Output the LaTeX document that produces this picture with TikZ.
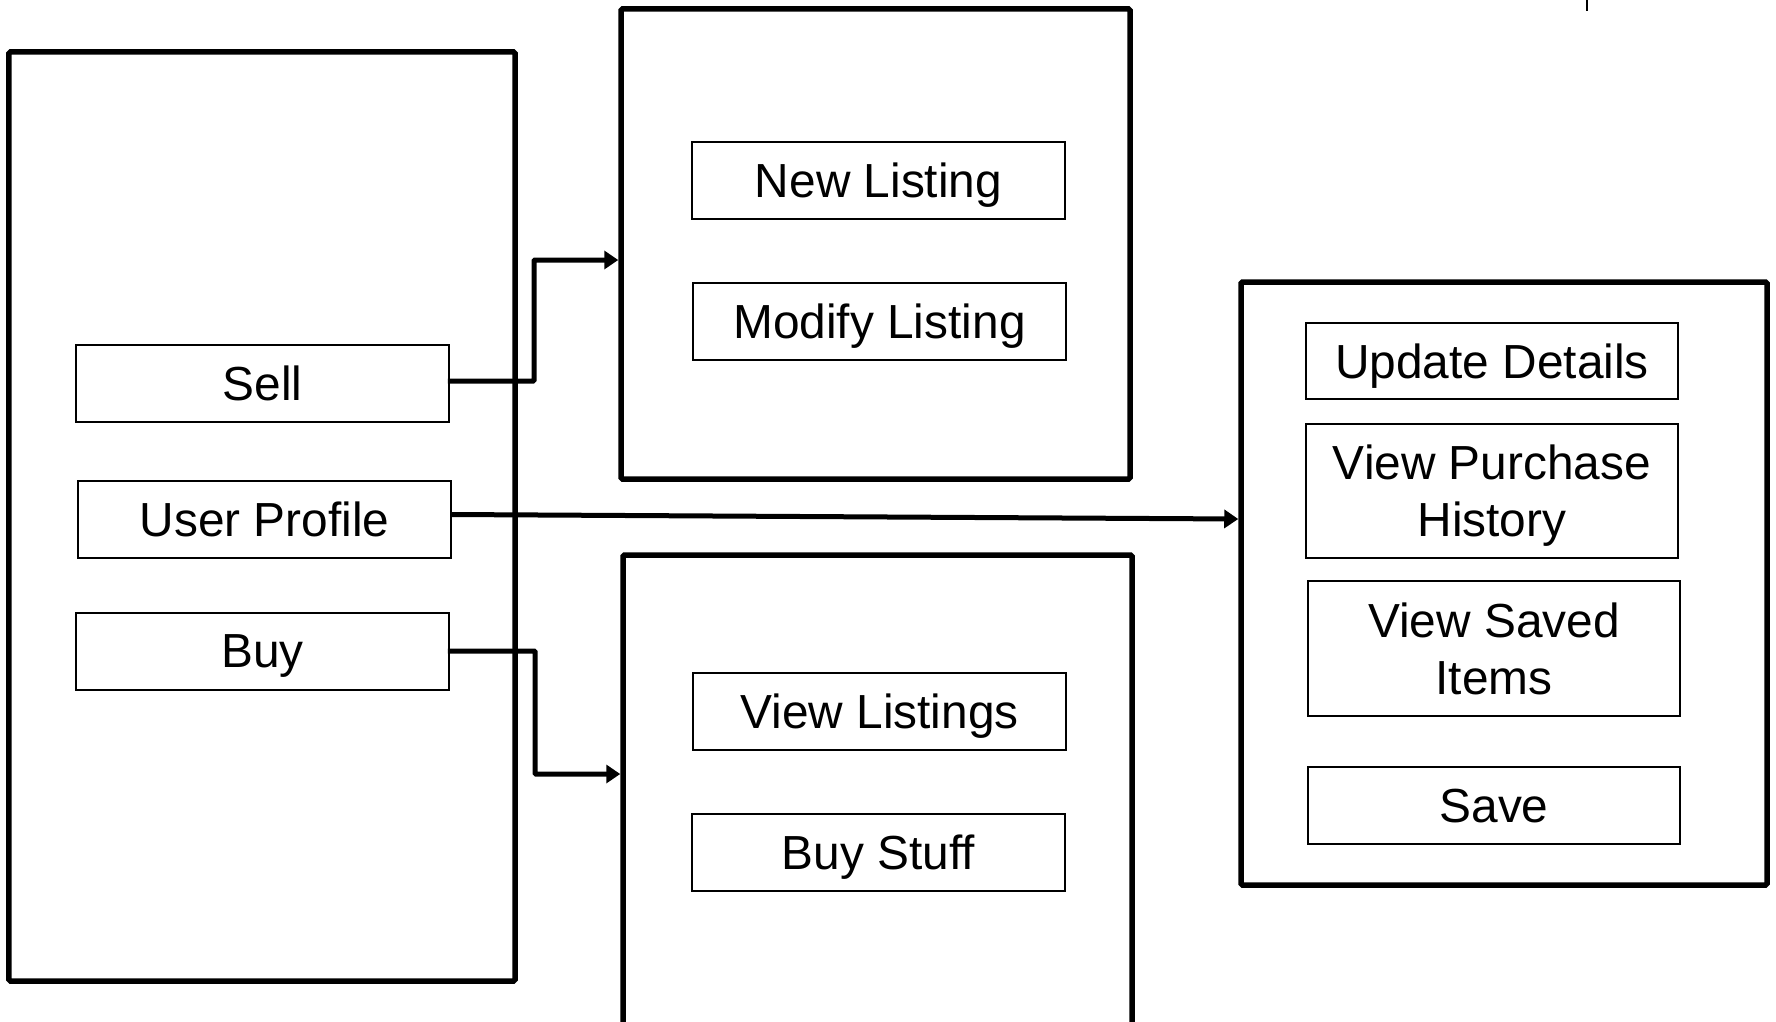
\documentclass[tikz,border=0pt]{standalone}
\usepackage{fontspec}
\setmainfont{Liberation Sans}
\usetikzlibrary{arrows.meta,calc}
\begin{document}
\begin{tikzpicture}[x=1bp,y=-1bp,
  outerbox/.style={draw=black,line width=5.5bp,rounded corners=1.5bp,inner sep=0pt},
  itembox/.style={draw=black,line width=1.8bp,inner sep=0pt,align=center,text depth=0pt,font=\fontsize{48}{57}\selectfont},
  conn/.style={line width=5bp,-{Triangle[length=14bp,width=18bp]}}
]
\useasboundingbox (0,0) rectangle (1776,1021);
\clip (0,0) rectangle (1776,1021);
% outer boxes
\node[outerbox,minimum width=506bp,minimum height=929bp] (leftbox) at (262,516.5) {};
\node[outerbox,minimum width=509bp,minimum height=470bp] (topbox) at (875.5,244) {};
\node[outerbox,minimum width=509bp,minimum height=500bp] (botbox) at (877.5,805) {};
\node[outerbox,minimum width=526bp,minimum height=603bp] (rightbox) at (1504,583.5) {};
% items
\node[itembox,minimum width=373bp,minimum height=77bp] (sell) at (262.5,383.5) {Sell};
\node[itembox,minimum width=373bp,minimum height=77bp] (user) at (264.5,519.5) {User Profile};
\node[itembox,minimum width=373bp,minimum height=77bp] (buy) at (262.5,651.5) {Buy};
\node[itembox,minimum width=373bp,minimum height=77bp] (newl) at (878.5,180.5) {New Listing};
\node[itembox,minimum width=373bp,minimum height=77bp] (modl) at (879.5,321.5) {Modify Listing};
\node[itembox,minimum width=373bp,minimum height=77bp] (viewl) at (879.5,711.5) {View Listings};
\node[itembox,minimum width=373bp,minimum height=77bp] (buys) at (878.5,852.5) {Buy Stuff};
\node[itembox,minimum width=372bp,minimum height=76bp] (upd) at (1492,361) {Update Details};
\node[itembox,minimum width=372bp,minimum height=134bp] (vph) at (1492,491) {View Purchase\\History};
\node[itembox,minimum width=372bp,minimum height=135bp] (vsi) at (1494,648.5) {View Saved\\Items};
\node[itembox,minimum width=372bp,minimum height=77bp] (save) at (1494,805.5) {Save};
% connectors
\coordinate (s1) at ($(sell.east)+(-2,-2.5)$);
\coordinate (s2) at (534,260);
\draw[conn,rounded corners=1bp] (s1) -| (s2) -- (topbox.west |- s2);
\coordinate (b1) at ($(buy.east)+(-2,-0.5)$);
\coordinate (b2) at (535,774);
\draw[conn,rounded corners=1bp] (b1) -| (b2) -- (botbox.west |- b2);
\coordinate (u1) at ($(user.east)+(0,-5)$);
\coordinate (u2) at (0,519);
\draw[conn] (u1) -- (rightbox.west |- u2);
% small tick top right
\coordinate (t1) at (1587,0);
\coordinate (t2) at (1587,11);
\draw[line width=2bp] (t1) -- (t2);
\end{tikzpicture}
\end{document}
